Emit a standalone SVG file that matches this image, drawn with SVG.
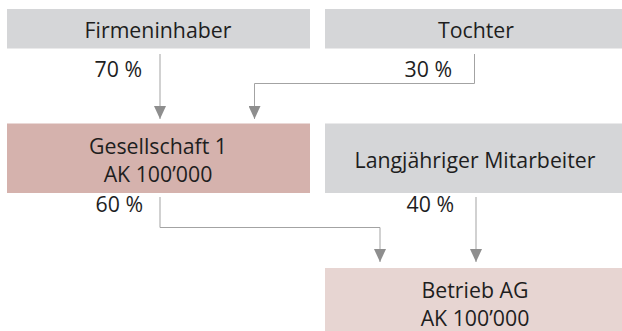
<svg xmlns="http://www.w3.org/2000/svg" width="622" height="331" viewBox="0 0 622 331">
  <style>
    .grey { fill: #d5d6d8; }
    .rose { fill: #d5b2ad; }
    .pale { fill: #e7d5d2; }
    text { font-family: "Open Sans", "Noto Sans", "Liberation Sans", sans-serif; font-size: 21.3px; fill: #1e1e1e; }
    .c { text-anchor: middle; }
    .r { text-anchor: end; }
    .conn { fill: none; stroke: #a3a3a3; stroke-width: 1; }
  </style>
  <defs>
    <marker id="arrow" markerUnits="userSpaceOnUse" markerWidth="12" markerHeight="13" refX="6" refY="13" orient="0" viewBox="0 0 12 13">
      <path d="M0,0 L12,0 L6,13 Z" fill="#8e8e8e"/>
    </marker>
  </defs>

  <g id="firmeninhaber">
    <rect class="grey" x="7" y="9" width="303" height="39.5"/>
    <text class="c" x="158" y="37.5">Firmeninhaber</text>
  </g>
  <g id="tochter">
    <rect class="grey" x="325" y="9" width="302" height="39.5"/>
    <text class="c" x="476" y="37.5">Tochter</text>
  </g>
  <g id="gesellschaft1">
    <rect class="rose" x="7" y="123.5" width="303" height="69.5"/>
    <text class="c" x="158" y="153.5">Gesellschaft 1</text>
    <text class="c" x="158" y="181.5">AK 100’000</text>
  </g>
  <g id="mitarbeiter">
    <rect class="grey" x="325" y="123.5" width="302" height="69.5"/>
    <text class="c" x="475" y="167.5">Langjähriger Mitarbeiter</text>
  </g>
  <g id="betrieb">
    <rect class="pale" x="325" y="268" width="302" height="70"/>
    <text class="c" x="475" y="298">Betrieb AG</text>
    <text class="c" x="475" y="326">AK 100’000</text>
  </g>

  <g id="connectors">
    <path class="conn" d="M160,54 V119" marker-end="url(#arrow)"/>
    <path class="conn" d="M474.5,54 V83.5 H254.5 V119" marker-end="url(#arrow)"/>
    <path class="conn" d="M160,197 V227.5 H380 V262" marker-end="url(#arrow)"/>
    <path class="conn" d="M476,197 V262" marker-end="url(#arrow)"/>
    <text class="r" x="142" y="76.5">70 %</text>
    <text class="r" x="452" y="76.5">30 %</text>
    <text class="r" x="143" y="212">60 %</text>
    <text class="r" x="454" y="212">40 %</text>
  </g>
</svg>
